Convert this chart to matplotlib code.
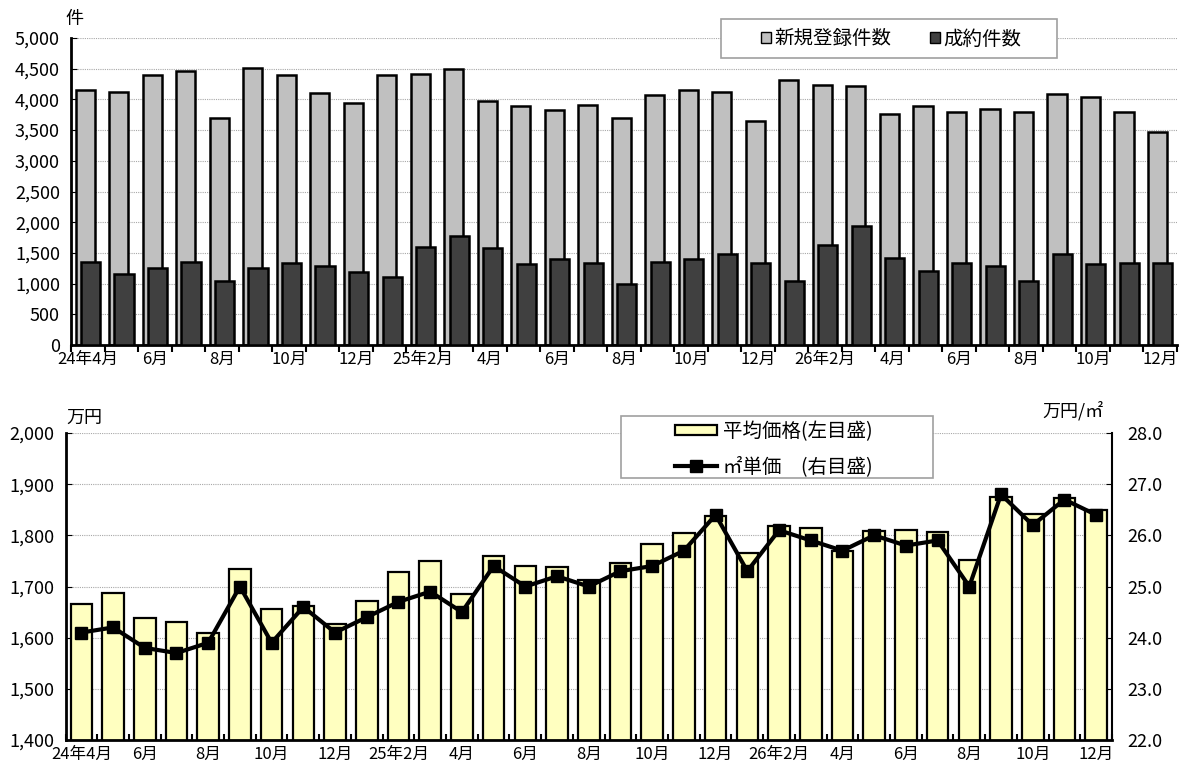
import numpy as np
import matplotlib.pyplot as plt
from matplotlib.patches import Rectangle
from matplotlib.ticker import FuncFormatter

plt.rcParams['font.family'] = ['Noto Sans CJK JP', 'DejaVu Sans']

# month labels (every other month shown)
month_labels = ["24年4月", "6月", "8月", "10月", "12月", "25年2月", "4月", "6月",
                "8月", "10月", "12月", "26年2月", "4月", "6月", "8月", "10月", "12月"]

# top chart: counts
new_listings = [4160, 4125, 4395, 4460, 3690, 4510, 4390, 4110, 3945, 4390, 4410,
                4490, 3970, 3885, 3835, 3905, 3700, 4065, 4160, 4120, 3650, 4310,
                4240, 4220, 3770, 3890, 3795, 3850, 3800, 4090, 4035, 3795, 3475]
contracts = [1350, 1158, 1260, 1350, 1035, 1260, 1337, 1285, 1185, 1115, 1592,
             1772, 1578, 1322, 1402, 1333, 1000, 1350, 1408, 1490, 1342, 1045,
             1625, 1946, 1418, 1208, 1337, 1284, 1045, 1490, 1322, 1343, 1328]

# bottom chart: price
avg_price = [1666, 1687, 1638, 1630, 1610, 1735, 1657, 1661, 1627, 1672, 1729,
             1749, 1685, 1759, 1741, 1739, 1712, 1746, 1784, 1804, 1837, 1766,
             1819, 1814, 1770, 1809, 1810, 1806, 1751, 1874, 1842, 1873, 1849]
unit_price = [24.1, 24.2, 23.8, 23.7, 23.9, 25.0, 23.9, 24.6, 24.1, 24.4, 24.7,
              24.9, 24.5, 25.4, 25.0, 25.2, 25.0, 25.3, 25.4, 25.7, 26.4, 25.3,
              26.1, 25.9, 25.7, 26.0, 25.8, 25.9, 25.0, 26.8, 26.2, 26.7, 26.4]

x = np.arange(len(new_listings))
W, H = 1181, 767

fig = plt.figure(figsize=(W / 100, H / 100), dpi=100)


def style_axis(ax):
    for s in ["top", "right"]:
        ax.spines[s].set_visible(False)
    ax.spines["left"].set_linewidth(2)
    ax.spines["bottom"].set_linewidth(2)
    ax.set_xlim(-0.5, len(x) - 0.5)
    ax.set_xticks(x[::2])
    ax.set_xticklabels(month_labels, fontsize=12)
    ax.set_xticks(np.arange(-0.5, len(x), 1), minor=True)
    ax.tick_params(axis="x", which="major", length=0, pad=4)
    ax.grid(axis="y", color="#a8a8a8", linewidth=0.8, linestyle=(0, (1, 1)))
    ax.set_axisbelow(True)


def legend_frame(x0, y0, x1, y1):
    # legend box in pixel coords (top-left origin)
    fig.patches.append(Rectangle((x0 / W, 1 - y1 / H), (x1 - x0) / W, (y1 - y0) / H,
                                 transform=fig.transFigure, facecolor="white",
                                 edgecolor="#a0a0a0", linewidth=1.2, zorder=4))


# ---------------- top chart ----------------
ax1 = fig.add_axes([71 / W, 1 - 345 / H, 1106 / W, 307 / H])
style_axis(ax1)
ax1.tick_params(axis="x", which="minor", direction="out", length=5, width=1.5)
b1 = ax1.bar(x - 0.08, new_listings, width=0.57, color="#c0c0c0", edgecolor="black",
             linewidth=1.8, zorder=2)
b2 = ax1.bar(x + 0.08, contracts, width=0.57, color="#404040", edgecolor="black",
             linewidth=1.8, zorder=3)
ax1.set_ylim(0, 5000)
ax1.set_yticks(range(0, 5001, 500))
ax1.yaxis.set_major_formatter(FuncFormatter(lambda v, p: f"{v:,.0f}"))
ax1.tick_params(axis="y", direction="in", length=4, labelsize=13, pad=8)
fig.text(74 / W, 1 - 19 / H, "件", fontsize=13, ha="center", va="center")

legend_frame(720.7, 19.3, 1057, 58.3)
h1 = Rectangle((0, 0), 1, 1, facecolor="#c0c0c0", edgecolor="black", linewidth=1)
h2 = Rectangle((0, 0), 1, 1, facecolor="#404040", edgecolor="black", linewidth=1)
leg1 = fig.legend([h1, h2], ["新規登録件数", "成約件数"], loc="center left",
                  bbox_to_anchor=(761 / W, 1 - 39 / H), ncol=2, fontsize=14,
                  handlelength=0.52, handleheight=0.52, handletextpad=0.15,
                  columnspacing=2.0, frameon=False, borderpad=0, borderaxespad=0)
leg1.set_zorder(6)

# ---------------- bottom chart ----------------
ax2 = fig.add_axes([65.5 / W, 1 - 740 / H, 1046.5 / W, 307 / H])
style_axis(ax2)
ax2.tick_params(axis="x", which="minor", direction="in", length=4, width=1.5)
bars = ax2.bar(x, avg_price, width=0.68, color="#ffffc0", edgecolor="black",
               linewidth=1.6, zorder=2)
ax2.set_ylim(1400, 2000)
ax2.set_yticks(range(1400, 2001, 100))
ax2.yaxis.set_major_formatter(FuncFormatter(lambda v, p: f"{v:,.0f}"))
ax2.tick_params(axis="y", direction="in", length=4, labelsize=13, pad=8)
fig.text(84 / W, 1 - 418 / H, "万円", fontsize=13, ha="center", va="center")

ax3 = ax2.twinx()
for s in ["top", "left", "bottom"]:
    ax3.spines[s].set_visible(False)
ax3.spines["right"].set_linewidth(1.5)
line, = ax3.plot(x, unit_price, color="black", linewidth=3, marker="s",
                 markersize=9, zorder=5)
ax3.set_ylim(22, 28)
ax3.set_yticks(range(22, 29))
ax3.yaxis.set_major_formatter(FuncFormatter(lambda v, p: f"{v:.1f}"))
ax3.tick_params(axis="y", direction="in", length=4, labelsize=13, pad=11)
fig.text(1073 / W, 1 - 411 / H, "万円/㎡", fontsize=13, ha="center", va="center")

legend_frame(620.7, 415.7, 932.7, 478.3)
leg2 = fig.legend([bars, line], ["平均価格(左目盛)", "㎡単価　(右目盛)"],
                  loc="center left", bbox_to_anchor=(675 / W, 1 - 449 / H),
                  fontsize=14, handlelength=2.15, handleheight=0.42, handletextpad=0.3,
                  labelspacing=0.75, frameon=False, borderpad=0, borderaxespad=0)
leg2.set_zorder(6)

fig.savefig("out.png", dpi=100)
